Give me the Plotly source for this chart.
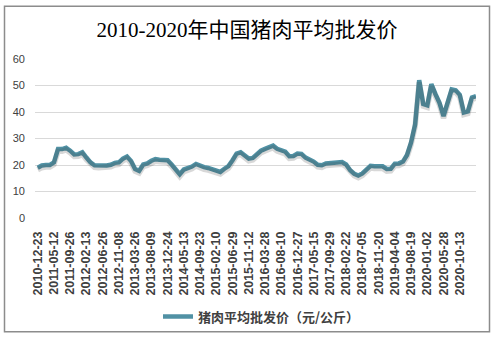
import plotly.graph_objects as go

# Wholesale pork price, yuan/kg, sampled at a regular step (4 steps per labelled date)
prices = [
    19.0, 19.8, 20.0, 20.0, 21.0, 26.0, 26.0, 26.5, 25.4, 24.0,
    24.1, 24.8, 22.8, 21.0, 19.9, 19.8, 19.8, 19.8, 20.1, 20.8,
    21.0, 22.4, 23.2, 21.5, 18.5, 17.8, 20.2, 20.6, 21.6, 22.2,
    22.0, 22.0, 21.8, 20.2, 18.4, 16.5, 18.3, 18.8, 19.4, 20.4,
    19.6, 19.2, 18.9, 18.4, 17.8, 17.4, 18.6, 19.6, 21.8, 24.3,
    24.8, 23.6, 22.4, 22.7, 24.3, 25.4, 26.1, 26.8, 27.3, 26.1,
    25.6, 25.0, 23.3, 23.4, 24.3, 24.2, 22.8, 22.1, 21.3, 20.1,
    19.9, 20.6, 20.8, 20.6, 21.1, 21.1, 20.2, 18.0, 16.7, 16.0,
    16.8, 18.3, 19.7, 19.5, 19.3, 19.5, 18.5, 18.6, 20.5, 20.6,
    21.3, 23.8, 28.5, 35.3, 52.0, 43.0, 42.5, 50.5, 46.8, 43.5,
    38.5, 43.5, 48.5, 48.2, 46.5, 39.8, 40.2, 45.5, 46.0,
]

date_labels = [
    "2010-12-23", "2011-05-12", "2011-09-26", "2012-02-13", "2012-06-26",
    "2012-11-08", "2013-03-26", "2013-08-09", "2013-12-24", "2014-05-13",
    "2014-09-23", "2015-02-10", "2015-06-29", "2015-11-12", "2016-03-28",
    "2016-08-10", "2016-12-27", "2017-05-15", "2017-09-29", "2018-02-22",
    "2018-07-05", "2018-11-20", "2019-04-04", "2019-08-19", "2020-01-02",
    "2020-05-28", "2020-10-13",
]

steps_per_label = 4
series_name = "猪肉平均批发价（元/公斤）"
title_text = "2010-2020年中国猪肉平均批发价"

idx = list(range(len(prices)))
tick_pos = [i * steps_per_label for i in range(len(date_labels))]

line_color = "#5091A4"

fig = go.Figure()

# soft drop shadow under the line (same data on an offset overlay axis)
fig.add_trace(go.Scatter(
    x=idx, y=prices, mode="lines", yaxis="y2",
    line=dict(color="rgba(60,60,60,0.2)", width=5.5),
    hoverinfo="skip", showlegend=False,
))
fig.add_trace(go.Scatter(
    x=idx, y=prices, mode="lines", name=series_name,
    line=dict(color=line_color, width=4.5),
))

fig.update_layout(
    width=494, height=343,
    margin=dict(l=35, r=18, t=59, b=121),
    paper_bgcolor="white", plot_bgcolor="white",
    title=dict(
        text=title_text, x=0.5, xanchor="center",
        y=1 - 30 / 343, yanchor="middle", yref="container",
        font=dict(family="Liberation Serif, Noto Sans CJK SC", size=21, color="#000000"),
    ),
    xaxis=dict(
        range=[-0.67, 108], tickmode="array", tickvals=tick_pos, ticktext=date_labels,
        tickangle=-90, showgrid=False, zeroline=False, showline=False, ticks="",
        tickfont=dict(family="Liberation Sans, Arial", size=12.5, color="#404040", weight="bold"),
        ticklabelstandoff=10,
    ),
    yaxis=dict(
        range=[0, 60], dtick=10, tick0=0, showgrid=True, gridcolor="#D9D9D9", gridwidth=1,
        zeroline=False, showline=False, ticks="",
        tickfont=dict(family="Liberation Sans, Arial", size=11, color="#404040"),
        ticklabelstandoff=9,
    ),
    yaxis2=dict(
        overlaying="y", range=[0.8, 60.8], visible=False,
    ),
    showlegend=True,
    legend=dict(
        orientation="h", x=(158 - 35) / 441, xanchor="left",
        y=(222 - 323) / 163, yanchor="middle",
        font=dict(family="Noto Sans CJK SC", size=13, color="#404040", weight="bold"),
        itemwidth=30, bgcolor="rgba(0,0,0,0)",
    ),
    shapes=[dict(
        type="rect", xref="paper", yref="paper",
        x0=(4.5 - 35) / 441, x1=(489.5 - 35) / 441,
        y0=(222 - 338.5) / 163, y1=(222 - 5) / 163,
        line=dict(color="#8C8C8C", width=1.5), fillcolor="rgba(0,0,0,0)", layer="below",
    )],
)

fig.write_html("out.html")
